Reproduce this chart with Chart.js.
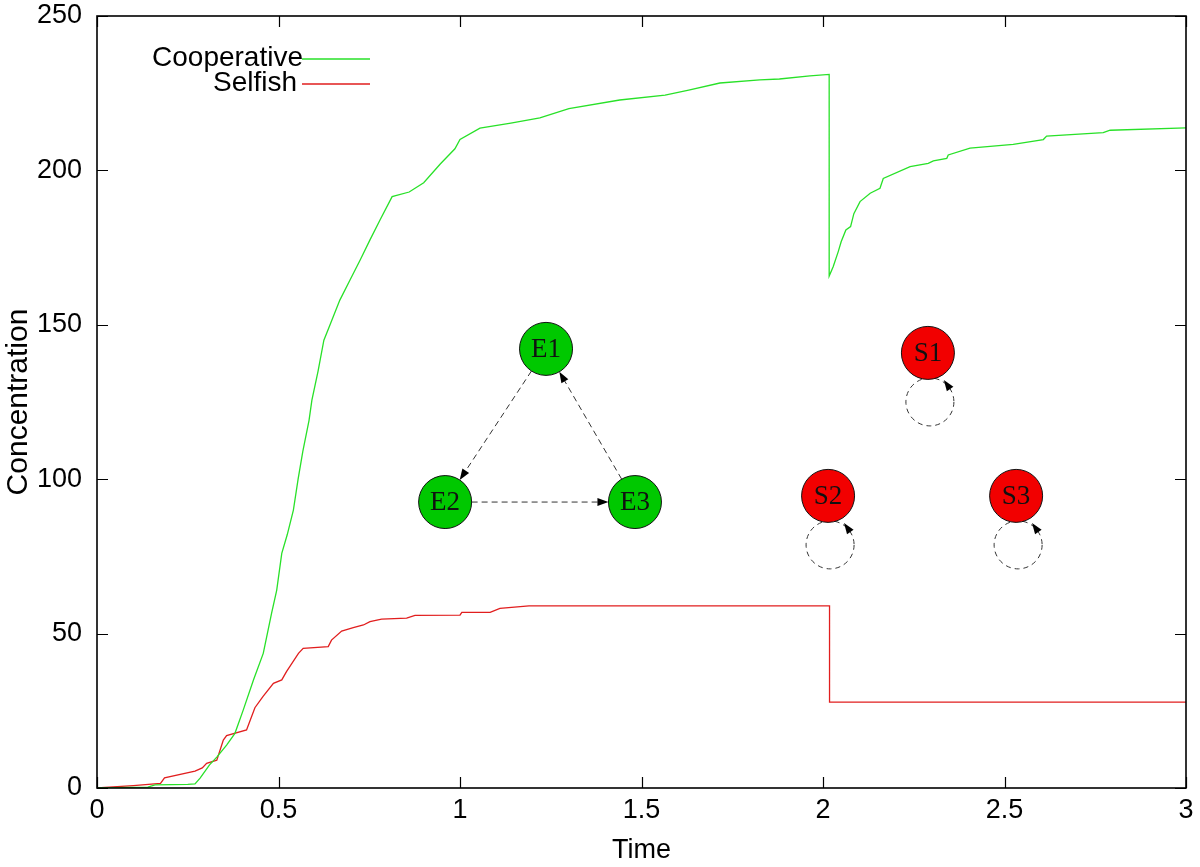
<!DOCTYPE html>
<html>
<head>
<meta charset="utf-8">
<title>Cooperative vs Selfish</title>
<script src="https://cdn.jsdelivr.net/npm/chart.js@4.4.1/dist/chart.umd.min.js"></script>
<style>
  html, body { margin: 0; padding: 0; background: #fff; }
  canvas { display: block; }
</style>
</head>
<body>
<canvas id="chart" width="1200" height="867"></canvas>
<script>
// values
const timeCoop = [0, 0.14, 0.16, 0.25, 0.27, 0.284, 0.31, 0.33, 0.357, 0.38, 0.403, 0.431, 0.458,
  0.481, 0.495, 0.509, 0.524, 0.541, 0.554, 0.567, 0.584, 0.592, 0.609, 0.625, 0.642, 0.669,
  0.697, 0.725, 0.752, 0.78, 0.813, 0.86, 0.9, 0.945, 0.986, 1.0, 1.055, 1.14, 1.22, 1.30,
  1.44, 1.565, 1.63, 1.716, 1.826, 1.88, 1.964, 2.017, 2.017, 2.028, 2.042, 2.05, 2.063, 2.076,
  2.085, 2.102, 2.13, 2.157, 2.166, 2.24, 2.29, 2.304, 2.341, 2.345, 2.405, 2.524, 2.607, 2.616,
  2.772, 2.791, 3.0];
const coopValues = [0, 0.3, 1, 1.2, 1.3, 3.2, 7.5, 10, 13.9, 17.7, 25.3, 35, 43.6,
  56.6, 64, 76, 82, 90, 100, 109, 119, 125.6, 135, 145, 150, 158,
  164.5, 171, 177.5, 184, 191.5, 193, 196, 202, 207, 210, 213.7, 215.3, 217, 220,
  222.8, 224.4, 226, 228.3, 229.3, 229.6, 230.6, 231.1, 165.8, 168.8, 173.7, 176.9, 180.7, 181.8,
  186, 189.9, 192.6, 194.2, 197.4, 201.2, 202.3, 203.1, 203.9, 205, 207.2, 208.4, 210, 211.1,
  212.2, 213, 213.8];

const timeSelf = [0, 0.1, 0.175, 0.186, 0.27, 0.29, 0.302, 0.33, 0.348, 0.357, 0.412, 0.435,
  0.457, 0.486, 0.509, 0.522, 0.555, 0.568, 0.637, 0.646, 0.674, 0.706, 0.734, 0.752, 0.784,
  0.853, 0.876, 1.0, 1.005, 1.083, 1.11, 1.19, 2.018, 2.018, 3.0];
const selfValues = [0, 0.8, 1.5, 3.3, 5.5, 6.5, 8, 9, 15.5, 17, 18.8, 26,
  29.6, 33.9, 35, 37.7, 43.6, 45.2, 45.8, 47.9, 50.8, 51.9, 52.8, 53.9, 54.7,
  55, 55.9, 56, 56.9, 56.9, 58.2, 59, 59, 27.8, 27.8];

const xTickValues = [0, 0.5, 1, 1.5, 2, 2.5, 3];
const yTickValues = [0, 50, 100, 150, 200, 250];

// inset network diagram, node centres in data units
const nodeNames = ['E1', 'E2', 'E3', 'S1', 'S2', 'S3'];
const nodeX = [1.237, 0.959, 1.482, 2.289, 2.014, 2.532];
const nodeY = [142.2, 92.6, 92.6, 140.9, 94.6, 94.6];
const edges = [['E1', 'E2'], ['E2', 'E3'], ['E3', 'E1']];
const selfLoops = ['S1', 'S2', 'S3'];

const FONT = '"Liberation Sans", Arial, Helvetica, sans-serif';
const GREEN = 'rgb(40, 225, 40)';
const RED = 'rgb(225, 30, 30)';

function toPoints(xs, ys) {
  return xs.map((x, i) => ({ x: x, y: ys[i] }));
}

function arrowHead(ctx, tipX, tipY, ux, uy) {
  const len = 11, half = 4;
  ctx.beginPath();
  ctx.moveTo(tipX, tipY);
  ctx.lineTo(tipX - ux * len - uy * half, tipY - uy * len + ux * half);
  ctx.lineTo(tipX - ux * len + uy * half, tipY - uy * len - ux * half);
  ctx.closePath();
  ctx.fill();
}

// network picture drawn on top of the plot
const insetPlugin = {
  id: 'inset',
  afterDatasetsDraw(chart) {
    const ctx = chart.ctx;
    const sx = chart.scales.x, sy = chart.scales.y;
    const r = 26.5;
    const pos = {};
    nodeNames.forEach((n, i) => {
      pos[n] = { x: sx.getPixelForValue(nodeX[i]), y: sy.getPixelForValue(nodeY[i]) };
    });

    ctx.save();
    ctx.strokeStyle = '#333';
    ctx.fillStyle = '#000';
    ctx.lineWidth = 1;

    edges.forEach(([a, b]) => {
      const p = pos[a], q = pos[b];
      const d = Math.hypot(q.x - p.x, q.y - p.y);
      const ux = (q.x - p.x) / d, uy = (q.y - p.y) / d;
      const tipX = q.x - ux * r, tipY = q.y - uy * r;
      ctx.setLineDash([6, 4]);
      ctx.beginPath();
      ctx.moveTo(p.x + ux * r, p.y + uy * r);
      ctx.lineTo(tipX - ux * 8, tipY - uy * 8);
      ctx.stroke();
      ctx.setLineDash([]);
      arrowHead(ctx, tipX, tipY, ux, uy);
    });

    selfLoops.forEach(n => {
      const p = pos[n];
      const cx = p.x + 2, cy = p.y + 49, lr = 24;
      ctx.setLineDash([5, 4]);
      ctx.beginPath();
      ctx.arc(cx, cy, lr, 0, Math.PI * 2);
      ctx.stroke();
      ctx.setLineDash([]);
      const a = -35 * Math.PI / 180;
      const bx = cx + lr * Math.cos(a), by = cy + lr * Math.sin(a);
      const tx = Math.sin(a), ty = -Math.cos(a);
      arrowHead(ctx, bx + tx * 10, by + ty * 10, tx, ty);
    });

    nodeNames.forEach(n => {
      const p = pos[n];
      ctx.beginPath();
      ctx.arc(p.x, p.y, r, 0, Math.PI * 2);
      ctx.fillStyle = n[0] === 'E' ? '#00c800' : '#f20000';
      ctx.fill();
      ctx.strokeStyle = '#111';
      ctx.stroke();
      ctx.fillStyle = '#111';
      ctx.font = '27px "Liberation Serif", "Times New Roman", serif';
      ctx.textAlign = 'center';
      ctx.textBaseline = 'middle';
      ctx.fillText(n, p.x, p.y + 1);
    });
    ctx.restore();
  }
};

// gnuplot style frame with inward ticks on every side, plus the key
const framePlugin = {
  id: 'frame',
  afterDraw(chart) {
    const ctx = chart.ctx;
    const { left, right, top, bottom } = chart.chartArea;
    const sx = chart.scales.x, sy = chart.scales.y;
    const tl = 11;
    ctx.save();
    ctx.strokeStyle = '#000';
    ctx.lineWidth = 1.2;
    ctx.beginPath();
    sx.ticks.forEach(t => {
      const px = Math.round(sx.getPixelForValue(t.value)) + 0.5;
      ctx.moveTo(px, bottom); ctx.lineTo(px, bottom - tl);
      ctx.moveTo(px, top); ctx.lineTo(px, top + tl);
    });
    sy.ticks.forEach(t => {
      const py = Math.round(sy.getPixelForValue(t.value)) + 0.5;
      ctx.moveTo(left, py); ctx.lineTo(left + tl, py);
      ctx.moveTo(right, py); ctx.lineTo(right - tl, py);
    });
    ctx.stroke();
    ctx.lineWidth = 1.6;
    ctx.strokeRect(left, top, right - left, bottom - top);

    // key
    ctx.font = '28px ' + FONT;
    ctx.textAlign = 'right';
    ctx.textBaseline = 'middle';
    chart.data.datasets.forEach((ds, i) => {
      const y = top + 42 + i * 25;
      ctx.fillStyle = '#000';
      ctx.fillText(ds.label, left + 206 - i * 6, y);
      ctx.strokeStyle = ds.borderColor;
      ctx.lineWidth = 1.3;
      ctx.beginPath();
      ctx.moveTo(left + 205, y + 1);
      ctx.lineTo(left + 273, y + 1);
      ctx.stroke();
    });
    ctx.restore();
  }
};

new Chart(document.getElementById('chart'), {
  type: 'scatter',
  data: {
    datasets: [
      {
        label: 'Cooperative',
        data: toPoints(timeCoop, coopValues),
        showLine: true,
        borderColor: GREEN,
        borderWidth: 1.3,
        pointRadius: 0,
        tension: 0
      },
      {
        label: 'Selfish',
        data: toPoints(timeSelf, selfValues),
        showLine: true,
        borderColor: RED,
        borderWidth: 1.3,
        pointRadius: 0,
        tension: 0
      }
    ]
  },
  options: {
    responsive: false,
    animation: false,
    devicePixelRatio: 1,
    layout: { padding: { top: 16, right: 14, left: 0, bottom: 0 } },
    plugins: {
      legend: { display: false },
      tooltip: { enabled: false }
    },
    scales: {
      x: {
        type: 'linear',
        min: 0,
        max: 3,
        afterBuildTicks: s => { s.ticks = xTickValues.map(v => ({ value: v })); },
        afterFit: s => { s.height = 79; s.paddingLeft = 0; s.paddingRight = 0; },
        ticks: { color: '#000', padding: 6, maxRotation: 0, callback: v => String(v),
          font: { family: FONT, size: 27 } },
        grid: { display: false, drawTicks: false },
        border: { display: false },
        title: { display: true, text: 'Time', color: '#000', padding: { top: 0, bottom: 0 },
          font: { family: FONT, size: 27 } }
      },
      y: {
        type: 'linear',
        min: 0,
        max: 250,
        afterBuildTicks: s => { s.ticks = yTickValues.map(v => ({ value: v })); },
        afterFit: s => { s.width = 97; s.paddingTop = 0; s.paddingBottom = 0; },
        ticks: { color: '#000', padding: 15, callback: v => String(v),
          font: { family: FONT, size: 27 } },
        grid: { display: false, drawTicks: false },
        border: { display: false },
        title: { display: true, text: 'Concentration', color: '#000', padding: { top: 1, bottom: 0 },
          font: { family: FONT, size: 30 } }
      }
    }
  },
  plugins: [insetPlugin, framePlugin]
});
</script>
</body>
</html>
